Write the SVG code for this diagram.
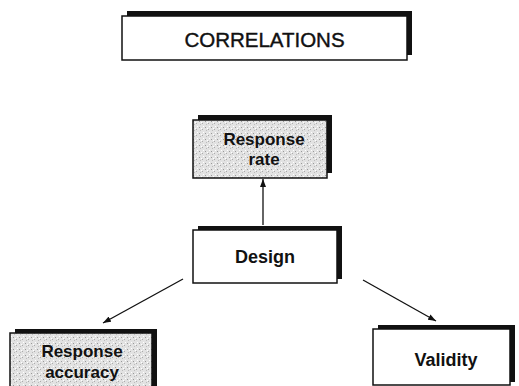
<svg xmlns="http://www.w3.org/2000/svg" width="519" height="386" viewBox="0 0 519 386">
  <style>
    .shadow { fill: #111; }
    .box { stroke: #111; stroke-width: 1.5; }
    .plain { fill: #fff; }
    .gray { fill: url(#stipple); }
    .lbl { font-family: "Liberation Sans", Arial, sans-serif; font-weight: bold; font-size: 18px; fill: #111; text-anchor: middle; }
    .lbl2 { font-family: "Liberation Sans", Arial, sans-serif; font-weight: bold; font-size: 17px; fill: #111; text-anchor: middle; }
    .title { font-family: "Liberation Sans", Arial, sans-serif; font-size: 20.5px; fill: #111; stroke: #111; stroke-width: 0.4; text-anchor: middle; }
    .conn { stroke: #111; stroke-width: 1.3; fill: none; marker-end: url(#arr); }
  </style>
  <defs>
    <pattern id="stipple" width="6" height="6" patternUnits="userSpaceOnUse">
      <rect width="6" height="6" fill="#e2e2e2"/>
      <rect x="1" y="1" width="1" height="1" fill="#999"/>
      <rect x="4" y="3" width="1" height="1" fill="#aaa"/>
      <rect x="2" y="4" width="1" height="1" fill="#bbb"/>
      <rect x="5" y="0" width="1" height="1" fill="#fff"/>
      <rect x="3" y="2" width="1" height="1" fill="#fff"/>
    </pattern>
    <marker id="arr" markerWidth="8" markerHeight="6" refX="8" refY="3" orient="auto" markerUnits="userSpaceOnUse">
      <path d="M0,0 L8,3 L0,6 Z" fill="#111"/>
    </marker>
  </defs>

  <g id="correlations">
    <rect class="shadow" x="127" y="11" width="285" height="44"/>
    <rect class="box plain" x="122" y="16" width="285" height="44"/>
    <text class="title" x="264.5" y="47">CORRELATIONS</text>
  </g>

  <g id="response-rate">
    <rect class="shadow" x="198" y="115" width="134" height="58"/>
    <rect class="box gray" x="193" y="120" width="134" height="58"/>
    <text class="lbl2" x="264" y="145">Response</text>
    <text class="lbl2" x="264" y="165">rate</text>
  </g>

  <g id="design">
    <rect class="shadow" x="198" y="226" width="144" height="53"/>
    <rect class="box plain" x="193" y="230" width="144" height="53"/>
    <text class="lbl" x="265" y="263">Design</text>
  </g>

  <g id="response-accuracy">
    <rect class="shadow" x="15" y="329" width="142" height="62"/>
    <rect class="box gray" x="10" y="333" width="142" height="62"/>
    <text class="lbl2" x="82" y="357">Response</text>
    <text class="lbl2" x="82" y="378">accuracy</text>
  </g>

  <g id="validity">
    <rect class="shadow" x="378" y="325" width="137" height="57"/>
    <rect class="box plain" x="373" y="329" width="137" height="56"/>
    <text class="lbl" x="446" y="366">Validity</text>
  </g>

  <g id="connectors">
    <line class="conn" x1="263" y1="225" x2="263" y2="179"/>
    <line class="conn" x1="183" y1="279" x2="103" y2="323"/>
    <line class="conn" x1="363" y1="280" x2="436" y2="321"/>
  </g>
</svg>
